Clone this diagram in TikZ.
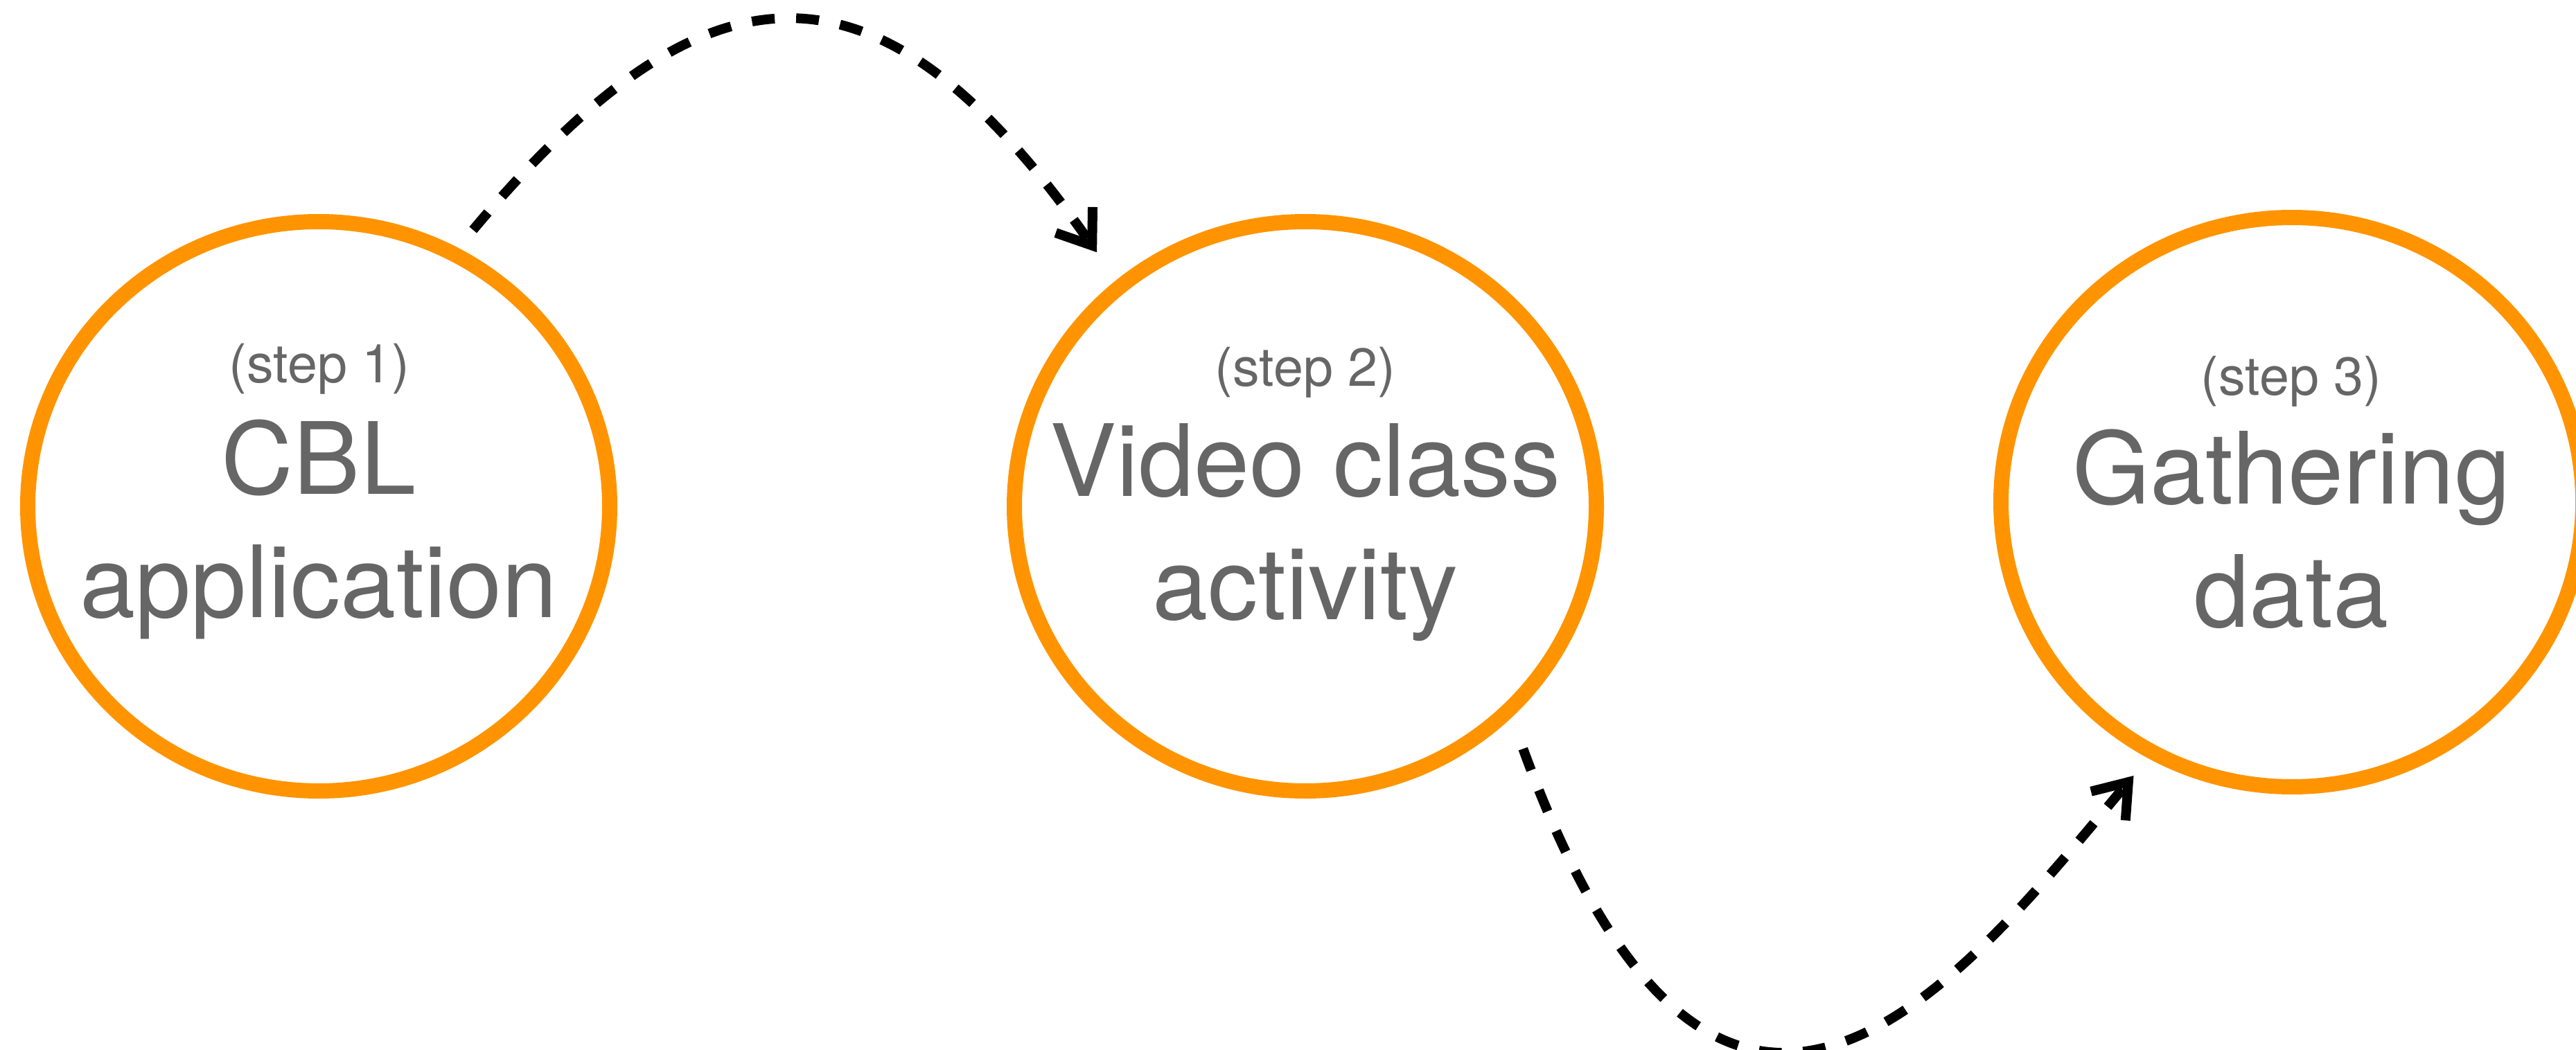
\documentclass[tikz,border=0pt]{standalone}
\usepackage{fontspec}
\setmainfont{TeX Gyre Heros}
\usetikzlibrary{shapes.geometric,arrows.meta}
\definecolor{steporange}{RGB}{255,148,0}
\definecolor{stepgray}{RGB}{102,102,102}
\tikzset{
  stepcircle/.style={ellipse,draw=steporange,line width=0.22cm,minimum width=8.4cm,minimum height=8.22cm,inner sep=0pt,outer sep=0pt},
  steplabel/.style={text=stepgray,font=\fontsize{22}{26}\selectfont,anchor=base,inner sep=0pt},
  stepname/.style={text=stepgray,font=\fontsize{41}{50.4}\selectfont,align=center,anchor=base,inner sep=0pt},
  flow/.style={line width=0.14cm,dash pattern=on 0.33cm off 0.31cm,-{Straight Barb[length=0.45cm,width=0.65cm]}}
}
\begin{document}
\begin{tikzpicture}
\useasboundingbox (0,0) rectangle (37.18,-15.16);
\node[stepcircle] (c1) at (4.60,-7.31) {};
\node[stepcircle] (c2) at (18.84,-7.31) {};
\node[stepcircle] (c3) at (33.08,-7.25) {};
\node[steplabel] (s1) at (4.61,-5.52) {(step 1)};
\node[steplabel] (s2) at (18.84,-5.57) {(step 2)};
\node[steplabel] (s3) at (33.07,-5.70) {(step 3)};
% base anchor sits on the last line
\node[stepname] (t1) at (4.60,-8.91) {CBL\\application};
\node[stepname] (t2) at (18.84,-8.94) {Video class\\activity};
\node[stepname] (t3) at (33.07,-9.05) {Gathering\\data};
\draw[flow,shorten <=0.45cm,shorten >=0.6cm] (c1.62) .. controls +(50:5.6) and +(125:6.2) .. (c2.130);
\draw[flow,shorten <=0.6cm,shorten >=0.44cm] (c2.-45) .. controls +(-70:9.0) and +(230:4.2) .. (c3.241);
\end{tikzpicture}
\end{document}
